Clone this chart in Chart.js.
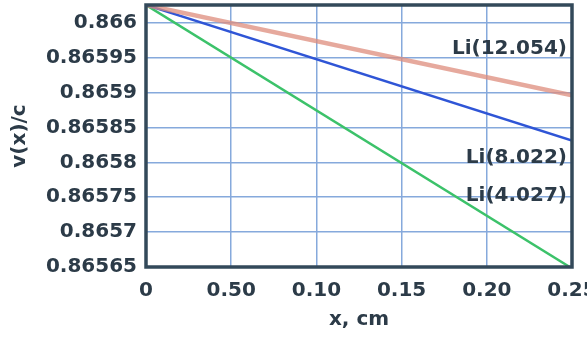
<!DOCTYPE html>
<html>
<head>
<meta charset="utf-8">
<script src="https://cdn.jsdelivr.net/npm/chart.js@4/dist/chart.umd.min.js"></script>
<style>
  html, body { margin: 0; padding: 0; background: #fff; }
  #wrap { width: 587px; height: 338px; }
</style>
</head>
<body>
<div id="wrap"><canvas id="chart"></canvas></div>
<script>
// x positions (cm) and v(x)/c values
const xValues = [0, 0.25];
const li12054 = [0.8660254, 0.865896];
const li8022 = [0.8660254, 0.865831];
const li4027 = [0.8660254, 0.865648];

const seriesNames = ['Li(12.054)', 'Li(8.022)', 'Li(4.027)'];

const xTicks = [0, 0.05, 0.10, 0.15, 0.20, 0.25];
const xTickLabels = ['0', '0.50', '0.10', '0.15', '0.20', '0.25'];
const yTicks = [0.86565, 0.8657, 0.86575, 0.8658, 0.86585, 0.8659, 0.86595, 0.866];

const textColor = '#2c3b48';
const gridColor = '#86a9dc';
const borderColor = '#33495a';
const font = { family: 'DejaVu Sans, sans-serif', size: 20, weight: 'bold' };

const toPoints = (ys) => xValues.map((x, i) => ({ x: x, y: ys[i] }));

// series labels written inside the plot, right aligned
const seriesLabels = {
    id: 'seriesLabels',
    afterDatasetsDraw(chart) {
        const { ctx, chartArea, scales } = chart;
        ctx.save();
        ctx.font = 'bold 20px ' + font.family;
        ctx.fillStyle = textColor;
        ctx.textAlign = 'right';
        ctx.textBaseline = 'middle';
        const right = chartArea.right - 5;
        ctx.fillText(seriesNames[0], right, scales.y.getPixelForValue(0.865962));
        ctx.fillText(seriesNames[1], right, scales.y.getPixelForValue(0.865806));
        ctx.fillText(seriesNames[2], right, scales.y.getPixelForValue(0.865752));
        ctx.restore();
    }
};

// heavy frame around the plot
const frame = {
    id: 'frame',
    afterDraw(chart) {
        const { ctx, chartArea } = chart;
        ctx.save();
        ctx.strokeStyle = borderColor;
        ctx.lineWidth = 3.5;
        ctx.strokeRect(chartArea.left, chartArea.top,
            chartArea.right - chartArea.left, chartArea.bottom - chartArea.top);
        ctx.restore();
    }
};

new Chart(document.getElementById('chart'), {
    type: 'line',
    data: {
        datasets: [
            {
                label: seriesNames[0],
                data: toPoints(li12054),
                borderColor: 'rgba(222,140,124,0.75)',
                borderWidth: 4.5
            },
            {
                label: seriesNames[1],
                data: toPoints(li8022),
                borderColor: '#2f55d6',
                borderWidth: 2.5
            },
            {
                label: seriesNames[2],
                data: toPoints(li4027),
                borderColor: '#3cc26a',
                borderWidth: 2.5
            }
        ]
    },
    options: {
        responsive: true,
        maintainAspectRatio: false,
        animation: false,
        elements: { point: { radius: 0 } },
        layout: { padding: { top: 5, right: 15, left: 0, bottom: 0 } },
        scales: {
            x: {
                type: 'linear',
                min: 0,
                max: 0.25,
                afterBuildTicks: (scale) => { scale.ticks = xTicks.map(v => ({ value: v })); },
                afterFit: (scale) => {
                    scale.height = 71;
                    scale.paddingLeft = 0;
                    scale.paddingRight = 0;
                },
                grid: { color: gridColor, lineWidth: 1.5, drawTicks: false },
                border: { display: false },
                ticks: {
                    color: textColor,
                    font: font,
                    padding: 12,
                    maxRotation: 0,
                    autoSkip: false,
                    callback: (v, i) => xTickLabels[i]
                },
                title: {
                    display: true,
                    text: 'x, cm',
                    color: textColor,
                    font: font,
                    padding: { top: 0, bottom: 6 }
                }
            },
            y: {
                min: 0.86565,
                max: 0.8660254,
                afterBuildTicks: (scale) => { scale.ticks = yTicks.map(v => ({ value: v })); },
                afterFit: (scale) => {
                    scale.width = 146;
                    scale.paddingTop = 0;
                    scale.paddingBottom = 0;
                },
                grid: { color: gridColor, lineWidth: 1.5, drawTicks: false },
                border: { display: false },
                ticks: {
                    color: textColor,
                    font: font,
                    padding: 9,
                    autoSkip: false,
                    callback: (v) => String(v)
                },
                title: {
                    display: true,
                    text: 'v(x)/c',
                    color: textColor,
                    font: font,
                    padding: { top: 8, bottom: 0 }
                }
            }
        },
        plugins: {
            legend: { display: false },
            tooltip: { enabled: false }
        }
    },
    plugins: [seriesLabels, frame]
});
</script>
</body>
</html>
